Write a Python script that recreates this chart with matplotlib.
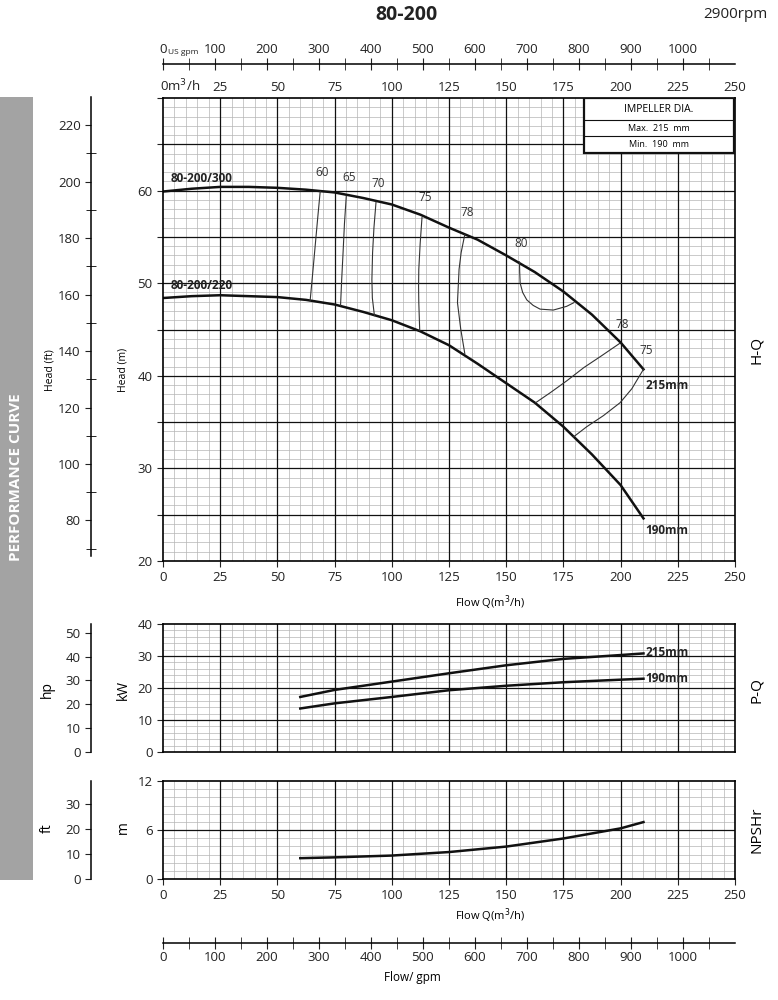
import matplotlib
matplotlib.use('Agg')
import matplotlib.pyplot as plt
from matplotlib.ticker import MultipleLocator, FixedLocator, FuncFormatter
from matplotlib.patches import Rectangle

plt.rcParams['font.family'] = ['Open Sans', 'DejaVu Sans']

# ---- data ----
# H-Q curves (Q in m3/h, H in m)
q_hq = [0, 12.5, 25, 37.5, 50, 62.5, 75, 87.5, 100, 112.5, 125, 137.5, 150, 162.5, 175, 187.5, 200, 210]
h_215 = [59.9, 60.2, 60.4, 60.4, 60.3, 60.1, 59.8, 59.2, 58.5, 57.4, 56.0, 54.7, 53.0, 51.2, 49.1, 46.6, 43.6, 40.7]
h_190 = [48.4, 48.6, 48.7, 48.6, 48.5, 48.2, 47.7, 46.9, 46.0, 44.8, 43.3, 41.3, 39.2, 37.1, 34.5, 31.5, 28.2, 24.6]

# iso-efficiency lines
eff_lines = {
    '60': ([68.7, 67.6, 66.5, 65.4, 64.3], [59.9, 57.0, 54.0, 51.0, 48.1]),
    '65': ([80.1, 79.3, 78.7, 78.1, 77.6], [59.4, 56.4, 53.3, 50.4, 47.6]),
    '70': ([93.1, 92.2, 91.6, 91.3, 91.5, 92.4], [58.75, 56.0, 53.3, 50.4, 48.4, 46.5]),
    '75': ([113.2, 112.4, 111.8, 111.7, 111.8, 112.2], [57.1, 54.3, 51.5, 49.7, 47.9, 44.9]),
    '78': ([131.9, 130.3, 129.4, 128.7, 130.1, 131.9], [55.25, 53.3, 51.5, 47.9, 45.1, 42.4]),
    '80': ([155.8, 155.9, 156.1, 157.2, 159.0, 161.8, 164.8, 170.6, 176.4, 179.6],
           [52.3, 51.2, 50.0, 49.0, 48.2, 47.6, 47.2, 47.1, 47.5, 47.9]),
    '78r': ([199.6, 191.3, 184.0, 176.7, 169.4, 162.9], [43.5, 42.1, 40.9, 39.5, 38.2, 37.1]),
    '75r': ([210.0, 207.8, 204.9, 199.8, 192.5, 185.2, 179.4], [40.7, 39.8, 38.6, 37.1, 35.7, 34.5, 33.4]),
}
eff_labels = [('60', 69.4, 61.3), ('65', 81.2, 60.7), ('70', 94.0, 60.1), ('75', 114.5, 58.6),
              ('78', 133.0, 56.9), ('80', 156.5, 53.6), ('78', 200.5, 44.8), ('75', 211.0, 42.0)]

# P-Q curves (kW)
q_p = [60, 75, 100, 125, 150, 175, 200, 210]
p_215 = [17.2, 19.4, 22.0, 24.6, 27.1, 29.1, 30.3, 30.8]
p_190 = [13.6, 15.2, 17.2, 19.3, 20.7, 21.8, 22.6, 22.9]

# NPSHr (m)
q_n = [60, 75, 100, 125, 150, 175, 200, 210]
npsh = [2.55, 2.65, 2.87, 3.3, 3.97, 4.96, 6.2, 6.97]

q_ticks = [0, 25, 50, 75, 100, 125, 150, 175, 200, 225, 250]
gpm_labels = [0, 100, 200, 300, 400, 500, 600, 700, 800, 900, 1000]

M3H_TO_GPM = 4.4029
M_TO_FT = 3.2808
KW_TO_HP = 1.341

fig = plt.figure(figsize=(7.78, 10), dpi=100)


def fx(x):
    return x / 778


def fy(y):
    return 1 - y / 1000


L, R = 163, 735
W = (R - L) / 778
ax_h = fig.add_axes([fx(L), fy(561), W, (561 - 98) / 1000])
ax_p = fig.add_axes([fx(L), fy(752), W, (752 - 624) / 1000])
ax_n = fig.add_axes([fx(L), fy(879), W, (879 - 781) / 1000])


def setup(ax, ylim, ymaj, ymin, labels):
    ax.set_xlim(0, 250)
    ax.set_ylim(*ylim)
    ax.xaxis.set_major_locator(MultipleLocator(25))
    ax.xaxis.set_minor_locator(MultipleLocator(5))
    ax.yaxis.set_major_locator(MultipleLocator(ymaj))
    ax.yaxis.set_minor_locator(MultipleLocator(ymin))
    ax.grid(which='minor', color='#b5b5b5', lw=0.5)
    ax.set_axisbelow(True)
    # major grid drawn over the minor one
    for v in range(25, 250, 25):
        ax.axvline(v, color='#111111', lw=0.9, zorder=0.9)
    y = ylim[0] + ymaj
    while y < ylim[1]:
        ax.axhline(y, color='#111111', lw=0.9, zorder=0.9)
        y += ymaj
    for s in ax.spines.values():
        s.set_linewidth(1.2)
    ax.yaxis.set_major_formatter(FuncFormatter(
        lambda v, p: '%d' % v if round(v) in labels else ''))
    ax.tick_params(which='minor', length=0)
    ax.tick_params(which='major', length=4, labelsize=9.5, colors='#222222')


setup(ax_h, (20, 70), 5, 1, [20, 30, 40, 50, 60])
setup(ax_p, (0, 40), 10, 2, [0, 10, 20, 30, 40])
setup(ax_n, (0, 12), 6, 1, [0, 6, 12])
ax_p.tick_params(axis='x', labelbottom=False, length=0)

# top m3/h labels of main chart
sec = ax_h.secondary_xaxis('top')
sec.set_xticks(q_ticks, [''] + [str(v) for v in q_ticks[1:]])
sec.tick_params(length=0, labelsize=9.5, colors='#222222', pad=3)
sec.spines['top'].set_visible(False)
ax_h.text(-1.5, 1.008, '0m$^3$/h', transform=ax_h.get_xaxis_transform(),
          ha='left', va='bottom', fontsize=9.5, color='#222222')

# H-Q curves
ax_h.plot(q_hq, h_215, color='#111111', lw=1.8)
ax_h.plot(q_hq, h_190, color='#111111', lw=1.8)
for key, (qq, hh) in eff_lines.items():
    ax_h.plot(qq, hh, color='#333333', lw=0.8)
for txt, qq, hh in eff_labels:
    ax_h.text(qq, hh, txt, fontsize=8.5, ha='center', va='bottom', color='#333333')
ax_h.text(3.5, 60.6, '80-200/300', fontsize=8.5, fontweight='bold', color='#222222', va='bottom')
ax_h.text(3.5, 49.0, '80-200/220', fontsize=8.5, fontweight='bold', color='#222222', va='bottom')
ax_h.text(211, 38.9, '215mm', fontsize=8.5, fontweight='bold', color='#222222', va='center')
ax_h.text(211, 23.3, '190mm', fontsize=8.5, fontweight='bold', color='#222222', va='center')

# impeller box
x0, x1 = (584 - L) / (R - L), (734 - L) / (R - L)
yb, y1, y2 = 1 - 55 / 463, 1 - 22 / 463, 1 - 38 / 463
ax_h.add_patch(Rectangle((x0, yb), x1 - x0, 1 - yb, transform=ax_h.transAxes,
                         facecolor='white', edgecolor='#111111', lw=1.6, zorder=5))
ax_h.plot([x0, x1], [y1, y1], transform=ax_h.transAxes, color='#111111', lw=0.8, zorder=6)
ax_h.plot([x0, x1], [y2, y2], transform=ax_h.transAxes, color='#111111', lw=0.8, zorder=6)
xm = (x0 + x1) / 2
ax_h.text(xm, (1 + y1) / 2, 'IMPELLER DIA.', transform=ax_h.transAxes, fontsize=7.5,
          ha='center', va='center', zorder=7)
ax_h.text(xm, (y1 + y2) / 2, 'Max.  215  mm', transform=ax_h.transAxes, fontsize=6.5,
          ha='center', va='center', zorder=7)
ax_h.text(xm, (y2 + yb) / 2, 'Min.  190  mm', transform=ax_h.transAxes, fontsize=6.5,
          ha='center', va='center', zorder=7)

# P-Q
ax_p.plot(q_p, p_215, color='#111111', lw=1.8)
ax_p.plot(q_p, p_190, color='#111111', lw=1.8)
ax_p.text(211, p_215[-1] + 0.3, '215mm', fontsize=8.5, fontweight='bold', color='#222222', va='center')
ax_p.text(211, p_190[-1] + 0.2, '190mm', fontsize=8.5, fontweight='bold', color='#222222', va='center')

# NPSHr
ax_n.plot(q_n, npsh, color='#111111', lw=1.8)


# secondary unit scales on the left
def unit_axis(ref, factor, ticks, minors, bounds):
    pos = ref.get_position()
    a = fig.add_axes([fx(91), pos.y0, 0.0001, pos.height])
    lo, hi = ref.get_ylim()
    a.set_ylim(lo * factor, hi * factor)
    for k in ('top', 'right', 'bottom'):
        a.spines[k].set_visible(False)
    a.spines['left'].set_bounds(*bounds)
    a.spines['left'].set_linewidth(1.1)
    a.set_xticks([])
    a.yaxis.set_major_locator(FixedLocator(ticks))
    a.yaxis.set_minor_locator(FixedLocator(minors))
    a.tick_params(which='major', length=4, labelsize=9.5, colors='#222222', direction='out')
    a.tick_params(which='minor', length=7, direction='inout')
    a.patch.set_visible(False)
    return a


unit_axis(ax_h, M_TO_FT, [80, 100, 120, 140, 160, 180, 200, 220],
          [70, 90, 110, 130, 150, 170, 190, 210, 230], (67.5, 230))
unit_axis(ax_p, KW_TO_HP, [0, 10, 20, 30, 40, 50], [], (0, 40 * KW_TO_HP))
unit_axis(ax_n, M_TO_FT, [0, 10, 20, 30], [], (0, 12 * M_TO_FT))


# gpm scales
def gpm_axis(ypix, top):
    a = fig.add_axes([fx(L), fy(ypix), W, 0.0001])
    a.set_xlim(0, 250 * M3H_TO_GPM)
    a.set_yticks([])
    for k in ('top', 'left', 'right', 'bottom'):
        a.spines[k].set_visible(False)
    sp = 'top' if top else 'bottom'
    a.spines[sp].set_visible(True)
    a.spines[sp].set_linewidth(1.1)
    a.xaxis.set_ticks_position(sp)
    a.xaxis.set_major_locator(FixedLocator(gpm_labels))
    a.xaxis.set_minor_locator(FixedLocator([50 + 100 * i for i in range(11)]))
    a.tick_params(which='both', direction='inout', length=8, labelsize=9.5,
                  colors='#222222', pad=2)
    a.patch.set_visible(False)
    return a


gpm_axis(64, True)
gpm_axis(943, False)
fig.text(fx(168), fy(53), 'US gpm', fontsize=6, va='center', ha='left', color='#222222')

# texts
fig.text(fx(407), fy(15), '80-200', fontsize=14, fontweight='bold', ha='center', va='center', color='#222222')
fig.text(fx(735), fy(15), '2900rpm', fontsize=11, ha='center', va='center', color='#222222')
fig.text(fx(50), fy(370), 'Head (ft)', fontsize=7.5, rotation=90, ha='center', va='center')
fig.text(fx(123), fy(370), 'Head (m)', fontsize=7.5, rotation=90, ha='center', va='center')
fig.text(fx(47), fy(690), 'hp', fontsize=10, rotation=90, ha='center', va='center')
fig.text(fx(123), fy(690), 'kW', fontsize=10, rotation=90, ha='center', va='center')
fig.text(fx(47), fy(828), 'ft', fontsize=10, rotation=90, ha='center', va='center')
fig.text(fx(123), fy(828), 'm', fontsize=10, rotation=90, ha='center', va='center')
fig.text(fx(757), fy(350), 'H-Q', fontsize=11, rotation=90, ha='center', va='center')
fig.text(fx(757), fy(690), 'P-Q', fontsize=11, rotation=90, ha='center', va='center')
fig.text(fx(757), fy(830), 'NPSHr', fontsize=11, rotation=90, ha='center', va='center')
fig.text(fx(490), fy(603), 'Flow Q(m$^3$/h)', fontsize=8, ha='center', va='center')
fig.text(fx(490), fy(916), 'Flow Q(m$^3$/h)', fontsize=8, ha='center', va='center')
fig.text(fx(412), fy(978), 'Flow/ gpm', fontsize=8.5, ha='center', va='center')

# grey band
fig.patches.append(Rectangle((0, fy(880)), fx(33), (880 - 97) / 1000, transform=fig.transFigure,
                             facecolor='#a3a3a3', edgecolor='none', zorder=0))
fig.text(fx(16), fy(477), 'PERFORMANCE CURVE', fontsize=11, fontweight='bold', color='white',
         rotation=90, ha='center', va='center')

fig.savefig('out.png', dpi=100)
